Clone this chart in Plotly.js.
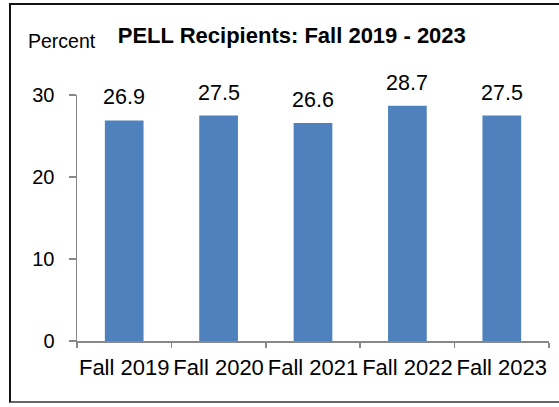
<!DOCTYPE html>
<html>
<head>
<meta charset="utf-8">
<script src="https://cdn.plot.ly/plotly-3.0.1.min.js"></script>
<style>
html,body{margin:0;padding:0;background:#fff;overflow:hidden;}
#frame{position:absolute;left:9px;top:3px;width:560px;height:400px;border-left:2px solid #111;border-top:2px solid #111;border-bottom:2px solid #666;box-sizing:border-box;}
#chart{position:absolute;left:0;top:0;width:559px;height:407px;}
</style>
</head>
<body>
<div id="chart"></div>
<div id="frame"></div>
<script>
const categories = ["Fall 2019", "Fall 2020", "Fall 2021", "Fall 2022", "Fall 2023"];
const values = [26.9, 27.5, 26.6, 28.7, 27.5];
const valueLabels = ["26.9", "27.5", "26.6", "28.7", "27.5"];
const yTicks = [0, 10, 20, 30];

const font = "Arial, 'Liberation Sans', sans-serif";

const trace = {
  type: "bar",
  x: categories,
  y: values,
  marker: {color: "#4F81BD", line: {width: 0}},
  hoverinfo: "skip"
};

const annotations = categories.map((c, i) => ({
  x: c, y: values[i], xref: "x", yref: "y",
  text: valueLabels[i], showarrow: false,
  yanchor: "bottom", yshift: 9,
  font: {family: font, size: 21.5, color: "#000"}
}));

annotations.push({
  xref: "paper", yref: "paper", x: -0.107, y: 1.22,
  xanchor: "left", yanchor: "middle",
  text: "Percent", showarrow: false,
  font: {family: font, size: 19.5, color: "#000"}
});

const layout = {
  width: 559, height: 407,
  margin: {l: 77, r: 10, t: 95, b: 66, pad: 0},
  paper_bgcolor: "rgba(0,0,0,0)",
  plot_bgcolor: "rgba(0,0,0,0)",
  showlegend: false,
  bargap: 0.59,
  title: {
    text: "<b>PELL Recipients: Fall 2019 - 2023</b>",
    font: {family: font, size: 22, color: "#000"},
    x: 0.522, xanchor: "center", xref: "container",
    y: 0.914, yanchor: "middle", yref: "container"
  },
  xaxis: {
    type: "category",
    showline: true, linecolor: "#888", linewidth: 1.5,
    ticks: "outside", tickson: "boundaries", ticklen: 5, tickcolor: "#888", tickwidth: 1.5,
    showgrid: false, zeroline: false,
    tickangle: 0,
    tickfont: {family: font, size: 22, color: "#000"},
    ticklabelstandoff: 6,
    fixedrange: true
  },
  yaxis: {
    range: [0, 30],
    tickvals: yTicks,
    ticktext: yTicks.map(String),
    showline: true, linecolor: "#888", linewidth: 1.5,
    ticks: "outside", ticklen: 7, tickcolor: "#888", tickwidth: 1.5,
    showgrid: false, zeroline: false,
    tickfont: {family: font, size: 20, color: "#000"},
    ticklabelstandoff: 10,
    fixedrange: true
  },
  annotations: annotations
};

Plotly.newPlot("chart", [trace], layout, {displayModeBar: false, staticPlot: true});
</script>
</body>
</html>
